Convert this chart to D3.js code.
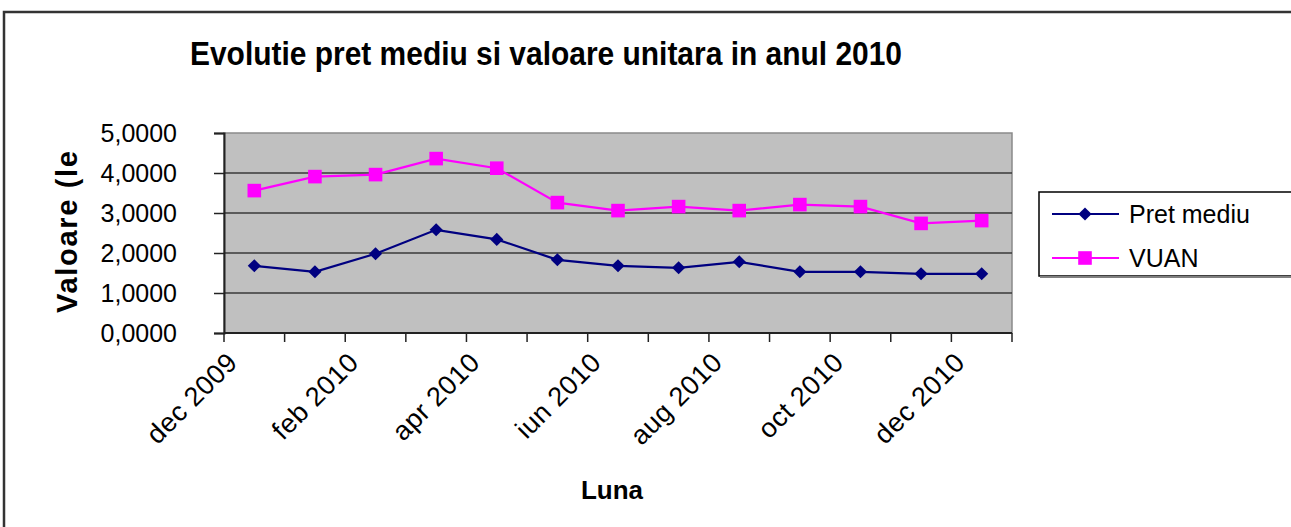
<!doctype html>
<html>
<head>
<meta charset="utf-8">
<script src="https://d3js.org/d3.v7.min.js"></script>
<style>
  body { margin: 0; background: #fff; }
  svg { display: block; font-family: "Liberation Sans", Arial, sans-serif; }
</style>
</head>
<body>
<svg width="1291" height="527"></svg>
<script>
// data
var months = ["dec 2009", "ian 2010", "feb 2010", "mar 2010", "apr 2010", "mai 2010", "iun 2010",
              "iul 2010", "aug 2010", "sep 2010", "oct 2010", "nov 2010", "dec 2010"];
var pretMediu = [1.68, 1.53, 1.98, 2.58, 2.34, 1.83, 1.68, 1.63, 1.78, 1.53, 1.53, 1.48, 1.48];
var vuan      = [3.56, 3.91, 3.96, 4.36, 4.12, 3.26, 3.06, 3.16, 3.06, 3.21, 3.16, 2.74, 2.81];
var yTicks = [0, 1, 2, 3, 4, 5];
var yTickLabels = ["0,0000", "1,0000", "2,0000", "3,0000", "4,0000", "5,0000"];
var xLabels = ["dec 2009", "feb 2010", "apr 2010", "iun 2010", "aug 2010", "oct 2010", "dec 2010"];

var series = [
  { name: "Pret mediu", values: pretMediu, color: "#000080", marker: "diamond" },
  { name: "VUAN",       values: vuan,      color: "#FF00FF", marker: "square" }
];

var svg = d3.select("svg");

// outer chart frame (runs off the right/bottom edge like the picture)
svg.append("rect")
   .attr("x", 4).attr("y", 12)
   .attr("width", 1320).attr("height", 540)
   .attr("fill", "none")
   .attr("stroke", "#333")
   .attr("stroke-width", 2.5);

var pLeft = 224, pRight = 1012, pTop = 133, pBottom = 333;

var x = d3.scaleBand().domain(months).range([pLeft, pRight]).padding(0);
var y = d3.scaleLinear().domain([0, 5]).range([pBottom, pTop]);

function markerPath(type) {
  return type === "diamond"
    ? d3.symbol().type(d3.symbolDiamond2).size(110)()
    : d3.symbol().type(d3.symbolSquare).size(185)();
}

// plot area
svg.append("rect")
   .attr("x", pLeft).attr("y", pTop)
   .attr("width", pRight - pLeft).attr("height", pBottom - pTop)
   .attr("fill", "#C0C0C0")
   .attr("stroke", "#8a8a8a")
   .attr("stroke-width", 1.5);

// gridlines
svg.append("g").selectAll("line")
   .data(yTicks.slice(1, -1))
   .enter().append("line")
   .attr("x1", pLeft).attr("x2", pRight)
   .attr("y1", function(d) { return y(d); })
   .attr("y2", function(d) { return y(d); })
   .attr("stroke", "#3a3a3a")
   .attr("stroke-width", 1.5);

// y axis
var yAxis = svg.append("g")
   .attr("transform", "translate(" + pLeft + ",0)")
   .call(d3.axisLeft(y).tickValues(yTicks).tickSize(10).tickPadding(37)
         .tickFormat(function(d, i) { return yTickLabels[i]; }));
yAxis.select(".domain").attr("stroke", "#222").attr("stroke-width", 2);
yAxis.selectAll(".tick line").attr("stroke", "#222").attr("stroke-width", 1.5);
yAxis.selectAll(".tick text")
     .attr("font-size", "25px")
     .attr("fill", "#000")
     .attr("font-family", "Liberation Sans, Arial, sans-serif");

// x axis line + ticks at band edges
svg.append("line")
   .attr("x1", pLeft).attr("x2", pRight)
   .attr("y1", pBottom).attr("y2", pBottom)
   .attr("stroke", "#222").attr("stroke-width", 2);

var edges = months.map(function(m) { return x(m); }).concat([pRight]);
svg.append("g").selectAll("line")
   .data(edges)
   .enter().append("line")
   .attr("x1", function(d) { return d; })
   .attr("x2", function(d) { return d; })
   .attr("y1", pBottom).attr("y2", pBottom + 9)
   .attr("stroke", "#222").attr("stroke-width", 1.5);

svg.append("g").selectAll("text")
   .data(xLabels)
   .enter().append("text")
   .attr("transform", function(d) {
       return "translate(" + (x(d) + 15) + "," + (pBottom + 31) + ") rotate(-45)";
   })
   .attr("text-anchor", "end")
   .attr("font-size", "27px")
   .attr("letter-spacing", "0.5px")
   .text(function(d) { return d; });

// series
var line = d3.line()
   .x(function(d, i) { return x(months[i]) + x.bandwidth() / 2; })
   .y(function(d) { return y(d); });

series.forEach(function(s) {
  svg.append("path")
     .datum(s.values)
     .attr("d", line)
     .attr("fill", "none")
     .attr("stroke", s.color)
     .attr("stroke-width", 2.2);

  svg.append("g").selectAll("path")
     .data(s.values)
     .enter().append("path")
     .attr("transform", function(d, i) {
         return "translate(" + (x(months[i]) + x.bandwidth() / 2) + "," + y(d) + ")";
     })
     .attr("d", markerPath(s.marker))
     .attr("fill", s.color);
});

// title
svg.append("text")
   .attr("x", 190).attr("y", 65)
   .attr("font-size", "33px")
   .attr("font-weight", "bold")
   .attr("textLength", 712)
   .attr("lengthAdjust", "spacingAndGlyphs")
   .text("Evolutie pret mediu si valoare unitara in anul 2010");

// axis titles
svg.append("text")
   .attr("transform", "translate(77,232) rotate(-90)")
   .attr("text-anchor", "middle")
   .attr("font-size", "29px")
   .attr("font-weight", "bold")
   .attr("textLength", 162)
   .attr("lengthAdjust", "spacing")
   .text("Valoare (le");

svg.append("text")
   .attr("x", 612).attr("y", 499)
   .attr("text-anchor", "middle")
   .attr("font-size", "26px")
   .attr("font-weight", "bold")
   .text("Luna");

// legend
var lg = svg.append("g");
lg.append("rect")
  .attr("x", 1039).attr("y", 192)
  .attr("width", 270).attr("height", 84)
  .attr("fill", "#fff")
  .attr("stroke", "#000")
  .attr("stroke-width", 1.5);
lg.append("line")
  .attr("x1", 1040).attr("x2", 1300)
  .attr("y1", 277).attr("y2", 277)
  .attr("stroke", "#808080").attr("stroke-width", 2);

series.forEach(function(s, i) {
  var ly = 214 + i * 44;
  lg.append("line")
    .attr("x1", 1052).attr("x2", 1119)
    .attr("y1", ly).attr("y2", ly)
    .attr("stroke", s.color).attr("stroke-width", 2.2);
  lg.append("path")
    .attr("transform", "translate(1085," + ly + ")")
    .attr("d", markerPath(s.marker))
    .attr("fill", s.color);
  lg.append("text")
    .attr("x", 1129).attr("y", ly + 9)
    .attr("font-size", "25px")
    .text(s.name);
});
</script>
</body>
</html>
